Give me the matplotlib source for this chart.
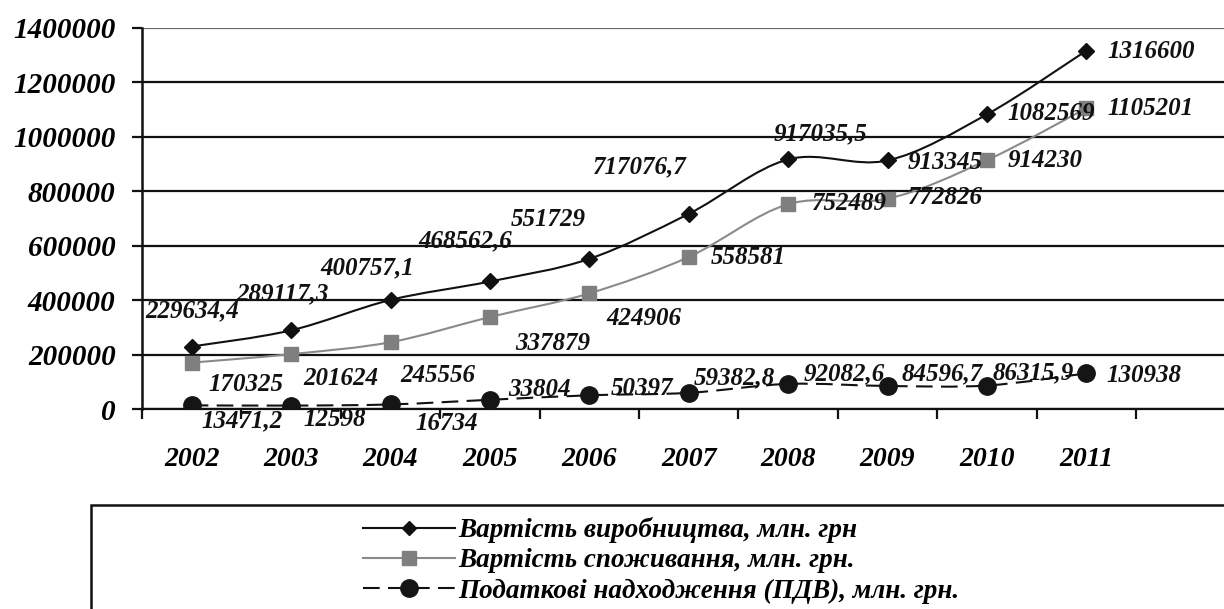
import matplotlib
matplotlib.use("Agg")
import matplotlib.pyplot as plt
from matplotlib.path import Path
from matplotlib.patches import PathPatch, Rectangle
from matplotlib.lines import Line2D

years = ["2002", "2003", "2004", "2005", "2006", "2007", "2008", "2009", "2010", "2011"]
production = [229634.4, 289117.3, 400757.1, 468562.6, 551729, 717076.7, 917035.5, 913345, 1082569, 1316600]
consumption = [170325, 201624, 245556, 337879, 424906, 558581, 752489, 772826, 914230, 1105201]
tax = [13471.2, 12598, 16734, 33804, 50397, 59382.8, 92082.6, 84596.7, 86315.9, 130938]
y_ticks = [0, 200000, 400000, 600000, 800000, 1000000, 1200000, 1400000]
legend_labels = ["Вартість виробництва, млн. грн",
                 "Вартість споживання, млн. грн.",
                 "Податкові надходження (ПДВ), млн. грн."]

# label offsets in pixels (dx, dy) -- layout only
prod_off = [(0, 36), (-9, 37), (-23, 32), (-25, 41), (-41, 39), (-49, 47), (32, 26), (58, -2), (64, 1), (65, -1)]
cons_off = [(54, -22), (50, -24), (47, -33), (63, -26), (55, -25), (60, -1), (61, 1), (58, 1), (58, 0), (64, 0)]
tax_off = [(50, -15), (44, -14), (56, -19), (50, 10), (53, 7), (46, 15), (56, 10), (55, 12), (46, 13), (58, -2)]

FONT = "Liberation Serif"
W, H = 1224, 609
fig = plt.figure(figsize=(W / 100, H / 100), dpi=100)
ax = fig.add_axes([142 / W, (H - 409) / H, 1 - 142 / W, (409 - 28) / H])
ax.set_xlim(-0.5, -0.5 + (W - 142) / 99.4)
ax.set_ylim(0, 1400000)

x = list(range(len(years)))


def smooth_path(xs, ys):
    pts = list(zip(xs, ys))
    n = len(pts)
    verts = [pts[0]]
    codes = [Path.MOVETO]
    for i in range(n - 1):
        p0 = pts[i - 1] if i > 0 else pts[i]
        p1 = pts[i]
        p2 = pts[i + 1]
        p3 = pts[i + 2] if i + 2 < n else pts[i + 1]
        c1 = (p1[0] + (p2[0] - p0[0]) / 6, p1[1] + (p2[1] - p0[1]) / 6)
        c2 = (p2[0] - (p3[0] - p1[0]) / 6, p2[1] - (p3[1] - p1[1]) / 6)
        verts += [c1, c2, p2]
        codes += [Path.CURVE4] * 3
    return Path(verts, codes)


dash = (0, (8, 4))
series = [
    (production, dict(color="#111111", lw=1.5, ls="-"), dict(marker="D", ms=8.5, color="#111111")),
    (consumption, dict(color="#8a8a8a", lw=1.5, ls="-"), dict(marker="s", ms=10, color="#7f7f7f")),
    (tax, dict(color="#111111", lw=1.5, ls=dash), dict(marker="o", ms=12.5, color="#151515")),
]
handles = []
for vals, lst, mst in series:
    patch = PathPatch(smooth_path(x, vals), facecolor="none", edgecolor=lst["color"],
                      lw=lst["lw"], linestyle=lst["ls"], zorder=3, capstyle="butt")
    ax.add_patch(patch)
    ax.plot(x, vals, linestyle="none", marker=mst["marker"], ms=mst["ms"],
            color=mst["color"], mec=mst["color"], zorder=4)
    handles.append(Line2D([], [], color=lst["color"], lw=lst["lw"], ls=lst["ls"],
                          marker=mst["marker"], ms=mst["ms"] * 0.85 if mst["marker"] == "D" else mst["ms"],
                          mfc=mst["color"], mec=mst["color"]))


def fmt(v):
    s = ("%.1f" % v).rstrip("0").rstrip(".")
    return s.replace(".", ",")


for vals, offs in [(production, prod_off), (consumption, cons_off), (tax, tax_off)]:
    for xi, v, (dx, dy) in zip(x, vals, offs):
        ax.annotate(fmt(v), (xi, v), xytext=(dx, dy), textcoords="offset pixels",
                    ha="center", va="center", fontsize=18, fontfamily=FONT,
                    fontweight="bold", fontstyle="italic", color="#111111", zorder=5)

# axes styling
ax.set_yticks(y_ticks)
ax.set_yticklabels([str(v) for v in y_ticks], fontfamily=FONT, fontsize=21,
                   fontweight="bold", fontstyle="italic")
ax.set_xticks([i - 0.5 for i in range(len(years) + 1)])
ax.set_xticklabels([])
ax.set_xticks(x, minor=True)
ax.set_xticklabels(years, minor=True, fontfamily=FONT, fontsize=20,
                   fontweight="bold", fontstyle="italic")
ax.tick_params(axis="x", which="minor", length=0, pad=27)
ax.tick_params(axis="x", which="major", length=7, width=1.6, direction="out", color="#111111")
ax.tick_params(axis="y", length=7, width=1.6, direction="out", pad=12, color="#111111")
ax.grid(axis="y", color="#111111", lw=1.6)
ax.get_ygridlines()[-1].set_color("#6a6a6a")
for s in ["top", "right"]:
    ax.spines[s].set_visible(False)
ax.spines["left"].set_linewidth(1.8)
ax.spines["left"].set_color("#111111")
ax.spines["bottom"].set_linewidth(1.6)
ax.spines["bottom"].set_color("#111111")
ax.set_axisbelow(True)

# legend box and legend
fig.add_artist(Rectangle((91 / W, -0.1), 1.2, (H - 505) / H + 0.1, transform=fig.transFigure,
                         fill=False, lw=1.8, edgecolor="#111111"))
fig.legend(handles, legend_labels, loc="upper left", bbox_to_anchor=(363 / W, (H - 517) / H),
           frameon=False, borderpad=0, borderaxespad=0, handlelength=3.4, handletextpad=0.1,
           labelspacing=0.2,
           prop=dict(family=FONT, size=19.5, weight="bold", style="italic"))

fig.savefig("out.png", dpi=100)
